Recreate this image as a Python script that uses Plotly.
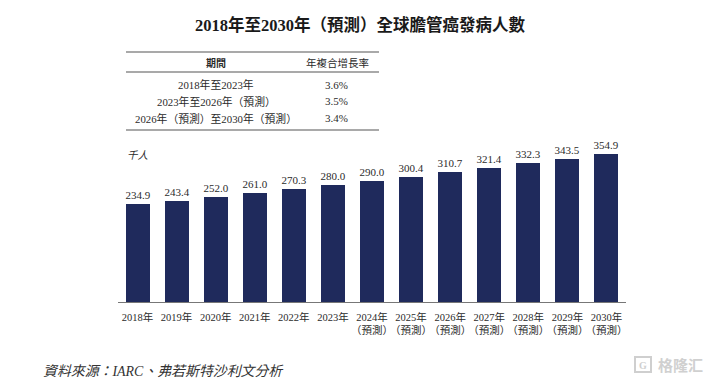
import plotly.graph_objects as go

years = ["2018", "2019", "2020", "2021", "2022", "2023", "2024", "2025", "2026", "2027", "2028", "2029", "2030"]
tick_labels = ["2018年", "2019年", "2020年", "2021年", "2022年", "2023年",
               "2024年<br>（預測）", "2025年<br>（預測）", "2026年<br>（預測）", "2027年<br>（預測）",
               "2028年<br>（預測）", "2029年<br>（預測）", "2030年<br>（預測）"]
patients = [234.9, 243.4, 252.0, 261.0, 270.3, 280.0, 290.0, 300.4, 310.7, 321.4, 332.3, 343.5, 354.9]
table_header = ["期間", "年複合增長率"]
table_periods = ["2018年至2023年", "2023年至2026年（預測）", "2026年（預測）至2030年（預測）"]
table_cagr = ["3.6%", "3.5%", "3.4%"]

W, H = 709, 382
PLOT_L, PLOT_R, PLOT_T, PLOT_B = 118, 626, 140, 302
FONT = "Liberation Serif, Noto Sans CJK TC, serif"
INK = "#2b2b2b"
NAVY = "#1f2a5c"
px = lambda x: (x - PLOT_L) / (PLOT_R - PLOT_L)
py = lambda y: (PLOT_B - y) / (PLOT_B - PLOT_T)

fig = go.Figure(go.Bar(
    x=years, y=patients, width=24 / 39, marker_color=NAVY, marker_line_width=0,
    text=[f"{v:.1f}" for v in patients], textposition="outside", cliponaxis=False,
    textangle=0, constraintext="none",
    textfont=dict(family=FONT, size=11, color=INK), hoverinfo="skip",
))


def label(x, y, text, size=10.5, color=INK, anchor="center", **font):
    fig.add_annotation(xref="paper", yref="paper", x=px(x), y=py(y), text=text, showarrow=False,
                       xanchor=anchor, yanchor="middle", align=anchor, borderpad=0, borderwidth=0,
                       font=dict(family=FONT, size=size, color=color, **font))


def rule(x0, x1, y, color="#555555", width=1.2):
    fig.add_shape(type="line", xref="paper", yref="paper", x0=px(x0), x1=px(x1), y0=py(y), y1=py(y),
                  line=dict(color=color, width=width))


label(360.5, 25, "<b>2018年至2030年（預測）全球膽管癌發病人數</b>", size=16.5, color="#1a1a1a")

rule(126, 379, 52)
rule(126, 379, 72)
rule(126, 379, 130)
label(216, 63, f"<b>{table_header[0]}</b>", size=10)
label(337, 63, table_header[1], size=10.5)
for y, period, cagr, cx in zip([84.5, 101, 118], table_periods, table_cagr, [216, 216.5, 216]):
    label(cx, y, period, size=10.8)
    label(336, y, cagr, size=11)

label(127, 155, "千人", size=10.5, anchor="left", style="italic")
label(43, 371, "資料來源：IARC、弗若斯特沙利文分析", size=13.9, anchor="left", style="italic", color="#333333")

fig.add_shape(type="rect", xref="paper", yref="paper", x0=px(635), x1=px(651), y0=py(372), y1=py(357),
              line=dict(color="#cfcfcf", width=2), fillcolor="white")
label(643, 365, "<b>G</b>", size=10, color="#cfcfcf")
label(680, 365, "<b>格隆汇</b>", size=15, color="#d0d0d0")

fig.update_layout(
    width=W, height=H, autosize=False, showlegend=False, bargap=0,
    paper_bgcolor="white", plot_bgcolor="white",
    margin=dict(l=PLOT_L, r=W - PLOT_R, t=PLOT_T, b=H - PLOT_B),
    font=dict(family=FONT, color=INK),
    xaxis=dict(type="category", tickmode="array", tickvals=years, ticktext=tick_labels,
               tickangle=0, automargin=False, ticklabelstandoff=5,
               showgrid=False, ticks="", showline=True, linecolor="#777777", linewidth=1.2,
               tickfont=dict(family=FONT, size=10.5, color=INK)),
    yaxis=dict(visible=False, range=[0, 388.5], showgrid=False, zeroline=False),
)

fig.write_html("out.html", config={"displayModeBar": False},
               post_script="document.body.style.margin='0';")
